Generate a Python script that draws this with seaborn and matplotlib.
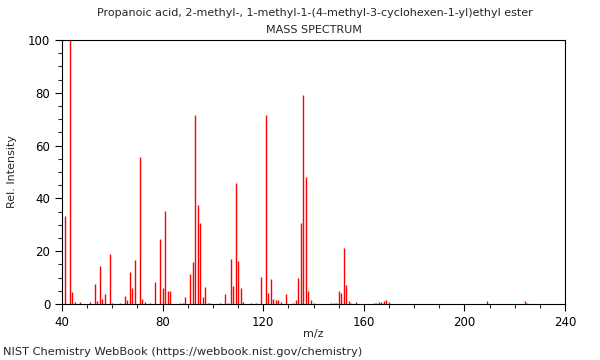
import matplotlib
matplotlib.use("Agg")
import matplotlib.pyplot as plt
from matplotlib.ticker import MultipleLocator
import seaborn as sns
import pandas as pd

title = "Propanoic acid, 2-methyl-, 1-methyl-1-(4-methyl-3-cyclohexen-1-yl)ethyl ester"
subtitle = "MASS SPECTRUM"
footer = "NIST Chemistry WebBook (https://webbook.nist.gov/chemistry)"

mz = [41, 43, 44, 45, 47, 51, 53, 54, 55, 56, 57, 59, 60, 63, 65, 66, 67, 68, 69,
      71, 72, 73, 75, 77, 79, 80, 81, 82, 83, 87, 88, 89, 91, 92, 93, 94, 95, 96,
      97, 98, 99, 103, 105, 106, 107, 108, 109, 110, 111, 112, 115, 117, 119, 121,
      122, 123, 124, 125, 126, 127, 129, 132, 133, 134, 135, 136, 137, 138, 139,
      140, 147, 148, 149, 150, 151, 152, 153, 154, 155, 157, 164, 165, 166, 167,
      168, 169, 170, 209, 224, 225]
intensity = [33.4, 100, 4.7, 0.9, 0.9, 0.9, 7.6, 1.3, 14.4, 2.0, 3.8, 18.9, 0.5,
             0.3, 3.0, 1.7, 12.2, 6.2, 16.7, 55.7, 1.9, 0.9, 0.5, 8.5, 24.5, 5.9,
             35.1, 5.0, 4.8, 0.4, 0.5, 2.8, 11.2, 15.9, 71.6, 37.5, 30.6, 2.8, 6.3,
             0.5, 0.5, 0.4, 3.8, 0.5, 17.0, 6.8, 45.7, 16.4, 6.2, 0.8, 0.4, 0.4,
             10.1, 71.5, 4.0, 9.3, 2.0, 1.4, 1.4, 0.7, 3.7, 0.5, 1.4, 9.8, 30.8,
             79.0, 48.1, 4.9, 1.4, 0.4, 0.5, 0.5, 0.5, 4.9, 4.2, 21.1, 7.2, 1.0,
             0.4, 0.6, 0.4, 0.4, 0.6, 0.9, 1.2, 1.5, 0.6, 1.1, 1.0, 0.4]

df = pd.DataFrame({"mz": mz, "intensity": intensity})

sns.set_style("ticks")
plt.rcParams['font.family'] = ['DejaVu Sans']

fig = plt.figure(figsize=(6, 3.6), dpi=100)
ax = fig.add_axes([62 / 600, 1 - 304 / 360, 503 / 600, 264 / 360])

ax.vlines(df["mz"], 0, df["intensity"], color="#ff0000", linewidth=1.0)

ax.set_xlim(40, 240)
ax.set_ylim(0, 100)
ax.xaxis.set_major_locator(MultipleLocator(40))
ax.xaxis.set_minor_locator(MultipleLocator(10))
ax.yaxis.set_major_locator(MultipleLocator(20))
ax.yaxis.set_minor_locator(MultipleLocator(5))
ax.tick_params(which="major", length=5, width=0.8, labelsize=8.5, direction="out", colors="black")
ax.tick_params(which="minor", length=3, width=0.8, direction="out")
for s in ax.spines.values():
    s.set_visible(True)
    s.set_color("black")
    s.set_linewidth(0.8)

ax.set_xlabel("m/z", fontsize=8)
ax.set_ylabel("Rel. Intensity", fontsize=8)
ax.xaxis.set_label_coords(0.5, -0.095)
ax.yaxis.set_label_coords(-0.089, 0.5)

fig.text(0.524, 1 - 13 / 360, title, fontsize=8, ha="center", va="center")
fig.text(0.524, 1 - 30 / 360, subtitle, fontsize=8, ha="center", va="center")
fig.text(0.005, 1 - 352 / 360, footer, fontsize=8.2, ha="left", va="center")

fig.savefig("out.png", dpi=100)
